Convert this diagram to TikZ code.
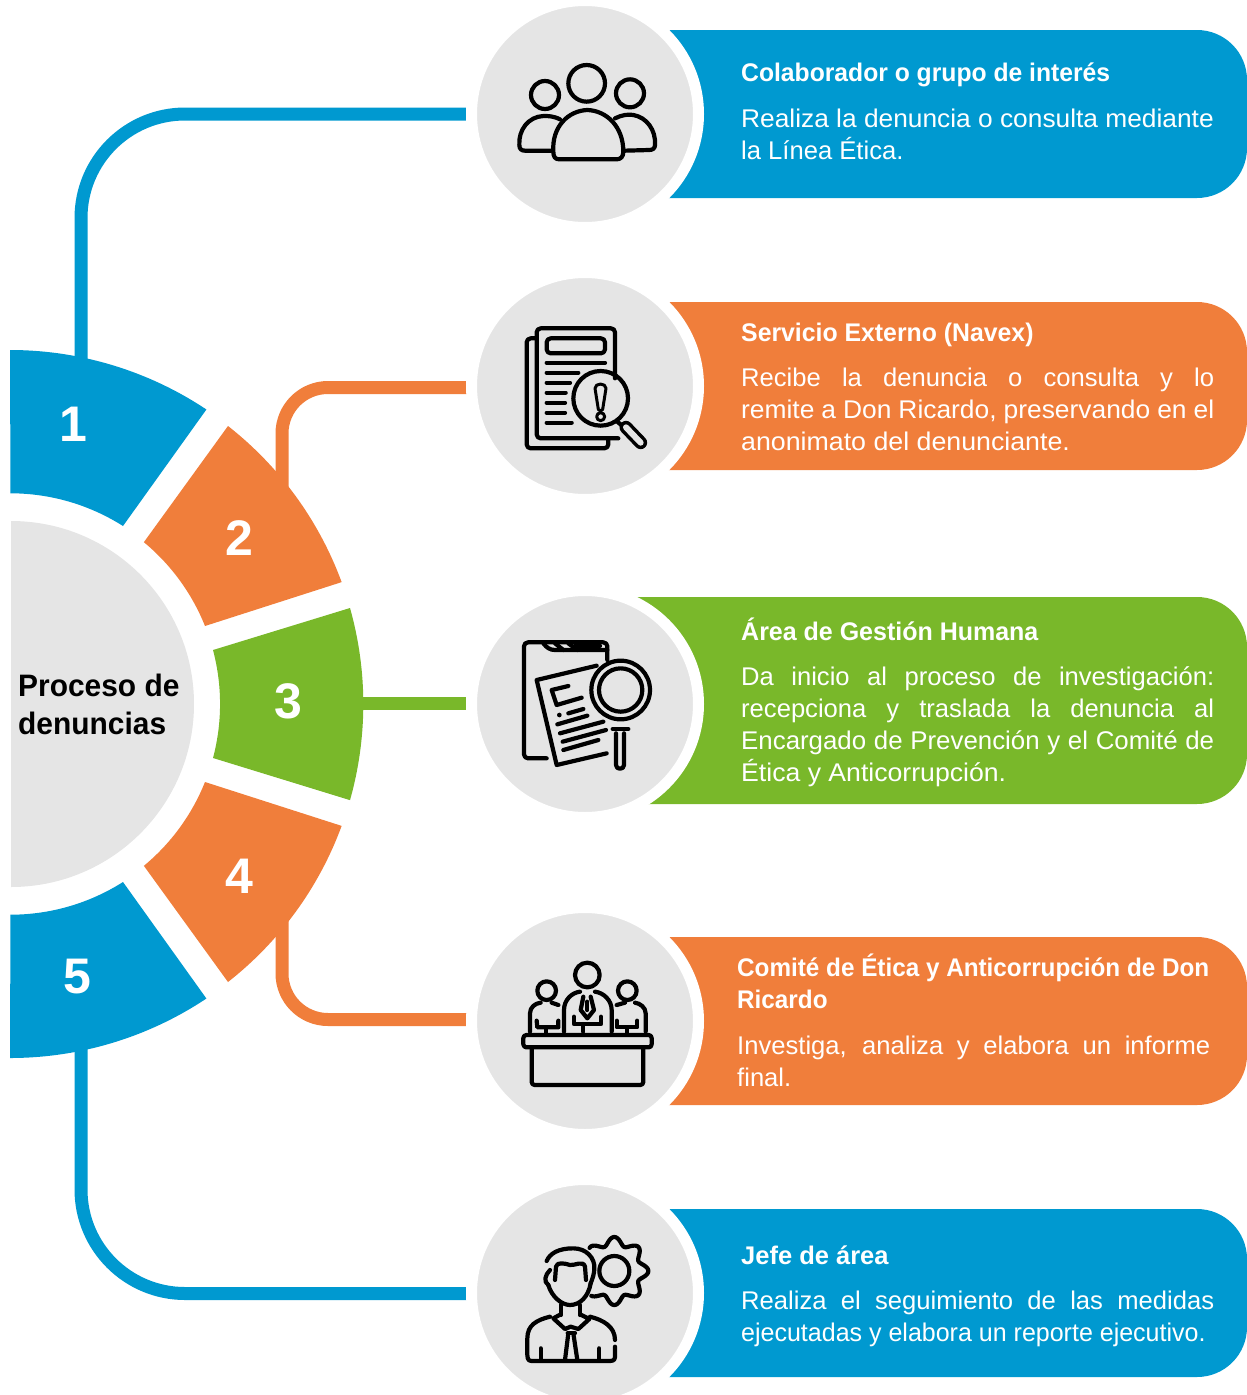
\documentclass[tikz,border=0pt]{standalone}
\usepackage{fontspec}
\setmainfont{Liberation Sans}
\definecolor{cblue}{HTML}{0099D0}
\definecolor{corange}{HTML}{F07E3B}
\definecolor{cgreen}{HTML}{79B82A}
\definecolor{cgray}{HTML}{E5E5E5}
\newcommand\jl[2][1]{{\addfontfeature{FakeStretch=#1}\hbox to 473pt{#2}}}
\newcommand\nl[2][1]{{\addfontfeature{FakeStretch=#1}\hbox{#2}}}
\newcommand\cardshape[3]{(#1,#2) -- (1197,#2) arc[start angle=-90,end angle=0,radius=50] -- (1247,#3-50) arc[start angle=0,end angle=90,radius=50] -- (#1,#3) -- cycle}
\tikzset{
  wedgeshape/.style={fill=#1,draw=none},
  link/.style={draw=#1,line width=13pt,line cap=butt},
  cardbox/.style={fill=#1,draw=none},
  disc/.style={circle,inner sep=0pt,minimum size=227pt,fill=cgray,draw=white,line width=11pt},
  numlabel/.style={text=white,font=\fontsize{50}{50}\selectfont\bfseries,inner sep=0pt},
  cardtitle/.style={anchor=base west,inner sep=0pt,text=white,font=\fontsize{25.5}{32}\selectfont\bfseries},
  cardtext/.style={anchor=base west,inner sep=0pt,text=white,font=\fontsize{25.6}{32}\selectfont},
  icon/.style={draw=black,line width=4.2pt,line cap=round,line join=round},
  iconthin/.style={draw=black,line width=3pt,line cap=round,line join=round},
  iconscope/.style={x=.33333pt,y=-.33333pt}
}
\begin{document}
\begin{tikzpicture}[x=1pt,y=-1pt]
\useasboundingbox (0,0) rectangle (1247,1395);
% anchors
\coordinate (c1) at (585,114);
\coordinate (c2) at (585,387.5);
\coordinate (c3) at (585,703.5);
\coordinate (c4) at (585,1019.5);
\coordinate (c5) at (585,1293.5);
\coordinate (w1) at (81,400);
\coordinate (w2) at (282,500);
\coordinate (w3) at (340,703.5);
\coordinate (w4) at (282,910);
\coordinate (w5) at (81,1010);
% connectors
\draw[link=cblue,rounded corners=104pt] (w1) |- (c1);
\draw[link=corange,rounded corners=46pt] (w2) |- (c2);
\draw[link=cgreen] (w3) -- (c3);
\draw[link=corange,rounded corners=46pt] (w4) |- (c4);
\draw[link=cblue,rounded corners=104pt] (w5) |- (c5);
% centre
\fill[cgray] (11,521) arc[start angle=-90,end angle=90,radius=183] -- cycle;
\node[anchor=base west,inner sep=0pt,text=black,font=\fontsize{31}{38}\selectfont\bfseries] (title) at (18,696) {\vtop{\addfontfeature{FakeStretch=.965}\hbox{Proceso de}\hbox{denuncias}}};
% wedges
\path[wedgeshape=cblue] (10,350) arc[start angle=-90,end angle=-56.3,radius=354] -- (123,526) arc[start angle=-57.6,end angle=-90,radius=210] -- cycle;
\path[wedgeshape=corange] (228,426) arc[start angle=-51.9,end angle=-20.2,radius=353.5] -- (205,626) arc[start angle=-21.8,end angle=-50.4,radius=210] -- cycle;
\path[wedgeshape=cgreen] (350,608) arc[start angle=-15.77,end angle=15.77,radius=353.5] -- (213,758) arc[start angle=14.9,end angle=-14.9,radius=210] -- cycle;
\path[wedgeshape=corange] (228,982) arc[start angle=51.9,end angle=20.2,radius=353.5] -- (205,782) arc[start angle=21.8,end angle=50.4,radius=210] -- cycle;
\path[wedgeshape=cblue] (10,1058) arc[start angle=90,end angle=56.3,radius=354] -- (123,882) arc[start angle=57.6,end angle=90,radius=210] -- cycle;
\node[numlabel] (n1) at (73,424.5) {1};
\node[numlabel] (n2) at (239,538) {2};
\node[numlabel] (n3) at (288,701) {3};
\node[numlabel] (n4) at (239,876) {4};
\node[numlabel] (n5) at (77,976.5) {5};
% cards
\path[cardbox=cblue] \cardshape{640}{30}{198};
\path[cardbox=corange] \cardshape{640}{302}{470};
\path[cardbox=cgreen] \cardshape{620}{597}{804};
\path[cardbox=corange] \cardshape{640}{937}{1105};
\path[cardbox=cblue] \cardshape{640}{1209}{1377};
% discs
\node[disc] (d1) at (585,114) {};
\node[disc] (d2) at (585,386) {};
\node[disc] (d3) at (585,704) {};
\node[disc] (d4) at (585,1021) {};
\node[disc] (d5) at (585,1293) {};
% texts
\node[cardtitle] (t1) at (741,81) {\nl[.968]{Colaborador o grupo de interés}};
\node[cardtext] (b1) at (741,127) {\vtop{\baselineskip=32pt\nl[1.028]{Realiza la denuncia o consulta mediante}\nl{la Línea Ética.}}};
\node[cardtitle] (t2) at (741,341) {\nl[.973]{Servicio Externo (Navex)}};
\node[cardtext] (b2) at (741,386) {\vtop{\baselineskip=32pt\jl{Recibe la denuncia o consulta y lo}\jl[1.03]{remite a Don Ricardo, preservando en el}\nl[1.045]{anonimato del denunciante.}}};
\node[cardtitle] (t3) at (741,640) {\nl[.98]{Área de Gestión Humana}};
\node[cardtext] (b3) at (741,685) {\vtop{\baselineskip=32pt\jl{Da inicio al proceso de investigación:}\jl{recepciona y traslada la denuncia al}\jl[1.01]{Encargado de Prevención y el Comité de}\nl[1.04]{Ética y Anticorrupción.}}};
\node[cardtitle] (t4) at (737,976) {\vtop{\baselineskip=32pt\nl[.952]{Comité de Ética y Anticorrupción de Don}\nl[.952]{Ricardo}}};
\node[cardtext] (b4) at (737,1054) {\vtop{\baselineskip=32pt\jl{Investiga, analiza y elabora un informe}\nl{final.}}};
\node[cardtitle] (t5) at (741,1264) {Jefe de área};
\node[cardtext] (b5) at (741,1309) {\vtop{\baselineskip=32pt\jl{Realiza el seguimiento de las medidas}\nl[.977]{ejecutadas y elabora un reporte ejecutivo.}}};
% icon 1
\begin{scope}[shift={(500,40)},iconscope]
\draw[icon] (260,130) circle[radius=55];
\draw[icon] (135,165) circle[radius=42];
\draw[icon] (390,160) circle[radius=42];
\draw[icon] (160,335) .. controls (155,260) and (205,212) .. (262,210) .. controls (320,212) and (370,260) .. (370,335) .. controls (370,350) and (362,358) .. (350,358) -- (178,358) .. controls (165,358) and (160,350) .. (160,335) -- cycle;
\draw[icon] (180,238) .. controls (160,228) and (145,228) .. (130,228) .. controls (85,230) and (55,270) .. (58,315) .. controls (58,328) and (65,332) .. (75,332) -- (155,332);
\draw[icon] (345,235) .. controls (365,225) and (385,222) .. (400,225) .. controls (440,232) and (468,270) .. (465,315) .. controls (465,325) and (458,330) .. (448,330) -- (375,332);
\end{scope}
% icon 2
\begin{scope}[shift={(500,310)},iconscope]
\draw[icon,rounded corners=4pt] (345,205) -- (345,55) -- (110,55) -- (110,385) -- (355,385);
\draw[icon,rounded corners=4pt] (110,85) -- (80,85) -- (80,415) -- (325,415) -- (325,390);
\draw[icon,rounded corners=4pt] (140,85) rectangle (315,130);
\foreach \yy/\xx in {158/315,188/235,218/210,248/197,278/195,308/195,338/215}
  \draw[icon] (140,\yy) -- (\xx,\yy);
\draw[icon] (302,265) circle[radius=82];
\draw[iconthin] (285,235) .. controls (285,218) and (318,218) .. (318,235) -- (308,298) .. controls (305,305) and (298,305) .. (295,298) -- cycle;
\draw[iconthin] (302,320) circle[radius=12];
\draw[icon] (352,335) -- (372,352);
\draw[black,line width=13pt,line cap=round] (378,352) -- (422,398);
\draw[cgray,line width=6pt,line cap=round] (378,352) -- (422,398);
\end{scope}
% icon 3
\begin{scope}[shift={(500,625)},iconscope]
\draw[icon,rounded corners=4pt] (140,400) -- (72,400) -- (72,52) -- (322,52) -- (322,105);
\draw[icon] (130,55) .. controls (140,68) and (150,75) .. (165,75) -- (322,75);
\draw[icon] (165,55) -- (190,75);
\draw[icon] (205,55) -- (232,75);
\draw[icon] (225,62) -- (300,62);
\draw[icon] (290,122) -- (110,165) -- (170,420) -- (320,385);
\draw[icon] (205,183) -- (155,195) -- (170,240) -- (245,218);
\fill (178,270) circle[radius=7];
\draw[icon] (205,265) -- (250,252);
\draw[icon] (172,298) -- (262,272);
\draw[icon] (180,325) -- (310,290);
\draw[icon] (188,350) -- (318,315);
\draw[icon] (190,375) -- (295,345);
\draw[icon] (362,195) circle[radius=88];
\draw[icon] (362,195) circle[radius=65];
\draw[icon] (338,312) -- (385,312);
\draw[icon] (348,325) -- (348,420) .. controls (348,435) and (372,435) .. (372,420) -- (372,325);
\end{scope}
% icon 4
\begin{scope}[shift={(500,950)},iconscope]
\draw[icon] (262,75) circle[radius=37];
\draw[icon] (192,245) -- (192,180) .. controls (192,150) and (215,128) .. (240,125);
\draw[icon] (285,125) .. controls (310,128) and (335,150) .. (335,180) -- (335,245);
\draw[icon] (250,140) -- (242,180) -- (262,205) -- (282,180) -- (272,140);
\draw[icon] (262,155) -- (262,180);
\draw[icon] (222,200) -- (222,222) -- (303,222) -- (303,200);
\draw[icon] (250,222) -- (250,245);
\draw[icon] (140,122) circle[radius=28];
\draw[icon] (90,245) -- (90,190) .. controls (90,172) and (105,160) .. (122,158);
\draw[icon] (155,158) -- (175,165);
\draw[icon] (110,212) -- (112,232) -- (175,232) -- (175,212);
\draw[icon] (138,232) -- (138,250);
\draw[icon] (382,122) circle[radius=28];
\draw[icon] (437,245) -- (437,190) .. controls (437,172) and (420,160) .. (405,158);
\draw[icon] (375,158) -- (350,165);
\draw[icon] (350,212) -- (350,232) -- (412,232) -- (412,212);
\draw[icon] (382,232) -- (382,250);
\draw[icon,rounded corners=3pt] (70,255) rectangle (455,292);
\draw[icon,rounded corners=3pt] (95,292) -- (95,405) -- (430,405) -- (430,292);
\end{scope}
% icon 5
\begin{scope}[shift={(500,1225)},iconscope]
\draw[icon] (343,138) circle[radius=45];
\draw[icon] plot[domain=-137:133,samples=160,smooth] ({343+(90+12*cos(8*\x))*cos(\x)},{138+(90+12*cos(8*\x))*sin(\x)});
\draw[icon] (140,108) .. controls (150,85) and (175,70) .. (220,70) .. controls (260,70) and (285,100) .. (283,130) .. controls (283,145) and (278,160) .. (272,175);
\draw[icon] (150,135) .. controls (135,150) and (130,170) .. (145,180);
\draw[icon] (145,180) .. controls (155,215) and (185,240) .. (210,240) .. controls (240,240) and (265,215) .. (272,175);
\draw[icon] (165,165) -- (168,125) .. controls (170,110) and (195,115) .. (210,120) .. controls (225,122) and (250,105) .. (255,125) -- (258,165);
\draw[icon] (182,240) -- (182,270);
\draw[icon] (240,240) -- (240,270);
\draw[icon] (182,268) -- (160,280) -- (195,312) -- (212,305) -- (235,312) -- (268,282) -- (240,268);
\draw[icon] (150,275) .. controls (110,285) and (82,300) .. (82,340) -- (82,390) .. controls (82,408) and (90,408) .. (100,408) -- (330,408) .. controls (345,408) and (345,400) .. (345,390) -- (345,365);
\draw[icon] (345,345) .. controls (345,305) and (310,285) .. (270,275);
\draw[icon] (203,325) -- (225,325);
\draw[icon] (205,325) -- (195,405);
\draw[icon] (220,325) -- (232,405);
\draw[icon] (122,370) -- (122,405);
\draw[icon] (298,370) -- (298,405);
\end{scope}
\end{tikzpicture}
\end{document}
